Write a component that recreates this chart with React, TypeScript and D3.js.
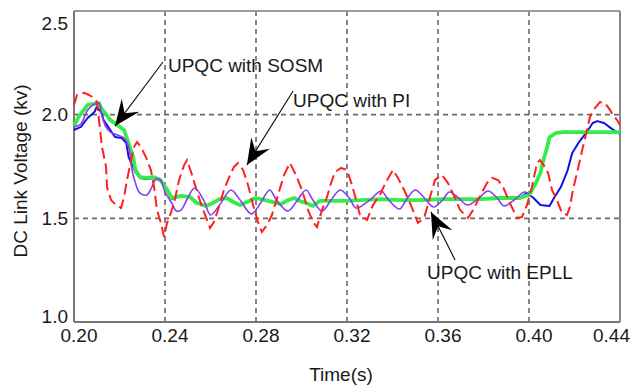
import React from "react";
import * as d3 from "d3";

const xTicks = [0.2, 0.24, 0.28, 0.32, 0.36, 0.4, 0.44];
const yTicks = [1.0, 1.5, 2.0, 2.5];
const xGrid = [0.24, 0.28, 0.32, 0.36, 0.4];
const yGrid = [1.5, 2.0];

const greenT = [0.200,0.202,0.206,0.211,0.212,0.216,0.219,0.222,0.224,0.226,0.227,0.229,0.232,0.235,0.238,0.241,0.243,0.247,0.251,0.254,0.258,0.261,0.264,0.267,0.270,0.273,0.277,0.280,0.284,0.287,0.291,0.294,0.297,0.299,0.302,0.305,0.308,0.313,0.319,0.326,0.335,0.343,0.352,0.361,0.370,0.379,0.387,0.396,0.400,0.403,0.405,0.406,0.408,0.409,0.412,0.415,0.422,0.431,0.440];
const greenV = [1.945,1.989,2.047,2.056,2.032,1.974,1.950,1.926,1.863,1.796,1.733,1.699,1.695,1.699,1.685,1.637,1.598,1.608,1.603,1.574,1.560,1.574,1.593,1.598,1.579,1.564,1.584,1.598,1.588,1.579,1.569,1.588,1.598,1.584,1.574,1.560,1.584,1.584,1.584,1.588,1.593,1.588,1.588,1.593,1.593,1.593,1.598,1.598,1.613,1.670,1.719,1.767,1.844,1.892,1.912,1.916,1.916,1.916,1.916];

const blueT = [0.200,0.203,0.206,0.209,0.210,0.212,0.213,0.215,0.218,0.221,0.223,0.224,0.226,0.227,0.229,0.232,0.235,0.238,0.241,0.243,0.247,0.251,0.254,0.258,0.261,0.264,0.267,0.270,0.273,0.277,0.280,0.284,0.287,0.291,0.294,0.297,0.299,0.302,0.305,0.308,0.313,0.319,0.326,0.335,0.343,0.352,0.361,0.370,0.379,0.387,0.396,0.399,0.402,0.405,0.409,0.411,0.414,0.417,0.419,0.422,0.426,0.428,0.430,0.433,0.436,0.439,0.440];
const blueV = [1.926,1.941,1.984,2.013,2.037,2.013,1.974,1.941,1.892,1.887,1.863,1.796,1.748,1.723,1.695,1.690,1.695,1.680,1.632,1.593,1.608,1.603,1.574,1.560,1.574,1.593,1.598,1.579,1.564,1.584,1.598,1.588,1.579,1.569,1.588,1.598,1.584,1.574,1.560,1.584,1.584,1.584,1.588,1.593,1.588,1.588,1.593,1.593,1.593,1.598,1.598,1.622,1.598,1.564,1.560,1.598,1.651,1.733,1.815,1.868,1.926,1.960,1.969,1.960,1.935,1.912,1.907];

const purpleT = [0.200,0.203,0.206,0.209,0.211,0.212,0.214,0.216,0.219,0.222,0.224,0.2255,0.227,0.229,0.232,0.234,0.236,0.238,0.240,0.243,0.245,0.247,0.250,0.253,0.257,0.260,0.264,0.269,0.273,0.278,0.282,0.286,0.289,0.294,0.298,0.302,0.305,0.309,0.313,0.317,0.321,0.324,0.330,0.335,0.338,0.343,0.346,0.350,0.354,0.358,0.362,0.365,0.369,0.373,0.378,0.382,0.386,0.389,0.394,0.398,0.400];
const purpleV = [1.941,1.955,2.023,2.051,2.056,2.008,1.941,1.916,1.902,1.887,1.844,1.733,1.670,1.622,1.613,1.646,1.690,1.685,1.627,1.574,1.535,1.540,1.598,1.646,1.588,1.516,1.564,1.637,1.588,1.521,1.574,1.637,1.588,1.535,1.584,1.637,1.588,1.535,1.588,1.637,1.598,1.550,1.588,1.632,1.593,1.545,1.588,1.637,1.598,1.555,1.588,1.627,1.598,1.564,1.598,1.632,1.598,1.560,1.593,1.627,1.617];

const redT = [0.2000,0.2013,0.2044,0.2066,0.2088,0.2101,0.2110,0.2123,0.2141,0.2145,0.2163,0.2185,0.2207,0.2220,0.2233,0.2251,0.2264,0.2277,0.2294,0.2316,0.2338,0.2352,0.2365,0.2382,0.2396,0.2409,0.2426,0.2440,0.2462,0.2484,0.2497,0.2519,0.2545,0.2571,0.2598,0.2615,0.2633,0.2659,0.2686,0.2703,0.2721,0.2743,0.2765,0.2787,0.2809,0.2826,0.2848,0.2870,0.2897,0.2923,0.2949,0.2976,0.3002,0.3029,0.3051,0.3068,0.3090,0.3112,0.3130,0.3147,0.3174,0.3200,0.3222,0.3240,0.3257,0.3288,0.3314,0.3345,0.3371,0.3402,0.3424,0.3451,0.3477,0.3512,0.3539,0.3565,0.3587,0.3618,0.3644,0.3675,0.3697,0.3732,0.3754,0.3776,0.3815,0.3837,0.3864,0.3886,0.3916,0.3947,0.3969,0.3991,0.4013,0.4035,0.4048,0.4070,0.4084,0.4101,0.4123,0.4145,0.4167,0.4180,0.4193,0.4211,0.4224,0.4237,0.4255,0.4268,0.4290,0.4312,0.4334,0.4356,0.4369,0.4387,0.4400];
const redV = [2.047,2.095,2.105,2.095,2.080,2.061,1.974,1.844,1.748,1.651,1.588,1.564,1.550,1.603,1.685,1.781,1.844,1.868,1.844,1.796,1.733,1.651,1.540,1.478,1.410,1.478,1.526,1.574,1.685,1.757,1.781,1.709,1.613,1.531,1.453,1.482,1.540,1.637,1.709,1.748,1.767,1.733,1.661,1.564,1.482,1.434,1.468,1.516,1.613,1.709,1.767,1.709,1.637,1.540,1.482,1.458,1.540,1.603,1.670,1.723,1.743,1.733,1.661,1.588,1.516,1.492,1.564,1.613,1.675,1.733,1.695,1.637,1.574,1.478,1.502,1.603,1.685,1.709,1.670,1.598,1.540,1.502,1.540,1.588,1.670,1.695,1.685,1.651,1.574,1.502,1.506,1.564,1.651,1.767,1.781,1.748,1.719,1.637,1.588,1.526,1.516,1.555,1.637,1.719,1.781,1.844,1.926,1.989,2.032,2.061,2.056,2.023,1.998,1.974,1.950];

const annLabels = ["UPQC with SOSM", "UPQC with PI", "UPQC with EPLL"];
const annTextT = [0.2413, 0.2963, 0.3552];
const annTextV = [2.206, 2.037, 1.207];
const annFromT = [0.2391, 0.2963, 0.3675];
const annFromV = [2.254, 2.114, 1.299];
const annTipT = [0.2180, 0.2760, 0.3569];
const annTipV = [1.945, 1.757, 1.531];

const W = 638, H = 387;
const FONT = "'Liberation Sans', Arial, sans-serif";

export default function App() {
  const x = d3.scaleLinear().domain([0.2, 0.44]).range([74, 620]);
  const y = d3.scaleLinear().domain([1.0, 2.5]).range([322, 11]);

  const mk = (ts: number[], vs: number[]) => ts.map((t, i) => [t, vs[i]] as [number, number]);
  const lin = d3.line<[number, number]>().x(d => x(d[0])).y(d => y(d[1]));
  const smooth = d3.line<[number, number]>().x(d => x(d[0])).y(d => y(d[1])).curve(d3.curveCatmullRom.alpha(0.5));

  const arrowHead = (tx: number, ty: number, fx: number, fy: number) => {
    const dx = fx - tx, dy = fy - ty;
    const len = Math.hypot(dx, dy);
    const ux = dx / len, uy = dy / len;
    const nx = -uy, ny = ux;
    const L = 26, Wd = 11;
    const p = [
      [tx, ty],
      [tx + ux * L + nx * Wd, ty + uy * L + ny * Wd],
      [tx + ux * L * 0.62, ty + uy * L * 0.62],
      [tx + ux * L - nx * Wd, ty + uy * L - ny * Wd],
    ];
    return p.map(q => q.join(",")).join(" ");
  };

  return (
    <svg width={W} height={H} style={{ position: "absolute", left: 0, top: 0, background: "#fff" }} fontFamily={FONT}>
      <rect x={0} y={0} width={W} height={H} fill="#fff" />
      {xGrid.map(t => (
        <line key={"gx" + t} x1={x(t)} x2={x(t)} y1={y(2.5)} y2={y(1.0)} stroke="#6a6a6a" strokeWidth={1.6} strokeDasharray="5,4" />
      ))}
      {yGrid.map(v => (
        <line key={"gy" + v} x1={x(0.2)} x2={x(0.44)} y1={y(v)} y2={y(v)} stroke="#6a6a6a" strokeWidth={1.6} strokeDasharray="5,4" />
      ))}
      <line x1={x(0.2)} x2={x(0.44)} y1={y(2.5)} y2={y(2.5)} stroke="#999" strokeWidth={2} />
      <line x1={x(0.44)} x2={x(0.44)} y1={y(2.5)} y2={y(1.0)} stroke="#888" strokeWidth={2} />
      <line x1={x(0.2)} x2={x(0.44)} y1={y(1.0)} y2={y(1.0)} stroke="#777" strokeWidth={2} />
      <line x1={x(0.2)} x2={x(0.2)} y1={y(2.5)} y2={y(1.0)} stroke="#777" strokeWidth={2} />

      <path d={lin(mk(blueT, blueV)) || ""} fill="none" stroke="#1010e8" strokeWidth={2} strokeLinejoin="round" />
      <path d={lin(mk(greenT, greenV)) || ""} fill="none" stroke="#33ee4a" strokeWidth={3.8} strokeLinejoin="round" />
      <path d={smooth(mk(purpleT, purpleV)) || ""} fill="none" stroke="#8a3cf0" strokeWidth={1.6} />
      <path d={lin(mk(redT, redV)) || ""} fill="none" stroke="#ff2020" strokeWidth={2} strokeDasharray="11,5" />

      {xTicks.map((t, i) => (
        <text key={"xt" + t} x={i === xTicks.length - 1 ? x(t) + 10 : x(t) + 5} y={342} fontSize={19} fill="#1a1a1a"
          textAnchor={i === xTicks.length - 1 ? "end" : "middle"}>{t.toFixed(2)}</text>
      ))}
      {yTicks.map(v => (
        <text key={"yt" + v} x={68} y={Math.min(Math.max(y(v), 23), 316)} dy="0.35em" fontSize={19} fill="#1a1a1a" textAnchor="end">{v.toFixed(1)}</text>
      ))}
      <text x={341} y={381} fontSize={19} fill="#1a1a1a" textAnchor="middle">Time(s)</text>
      <text transform="translate(27,171) rotate(-90)" fontSize={19} fill="#1a1a1a" textAnchor="middle">DC Link Voltage (kv)</text>

      {annLabels.map((lab, i) => {
        const tx = x(annTipT[i]), ty = y(annTipV[i]);
        const fx = x(annFromT[i]), fy = y(annFromV[i]);
        return (
          <g key={lab}>
            <line x1={fx} y1={fy} x2={tx} y2={ty} stroke="#111" strokeWidth={1.2} />
            <polygon points={arrowHead(tx, ty, fx, fy)} fill="#000" />
            <text x={x(annTextT[i])} y={y(annTextV[i])} fontSize={19} fill="#1a1a1a">{lab}</text>
          </g>
        );
      })}
    </svg>
  );
}
